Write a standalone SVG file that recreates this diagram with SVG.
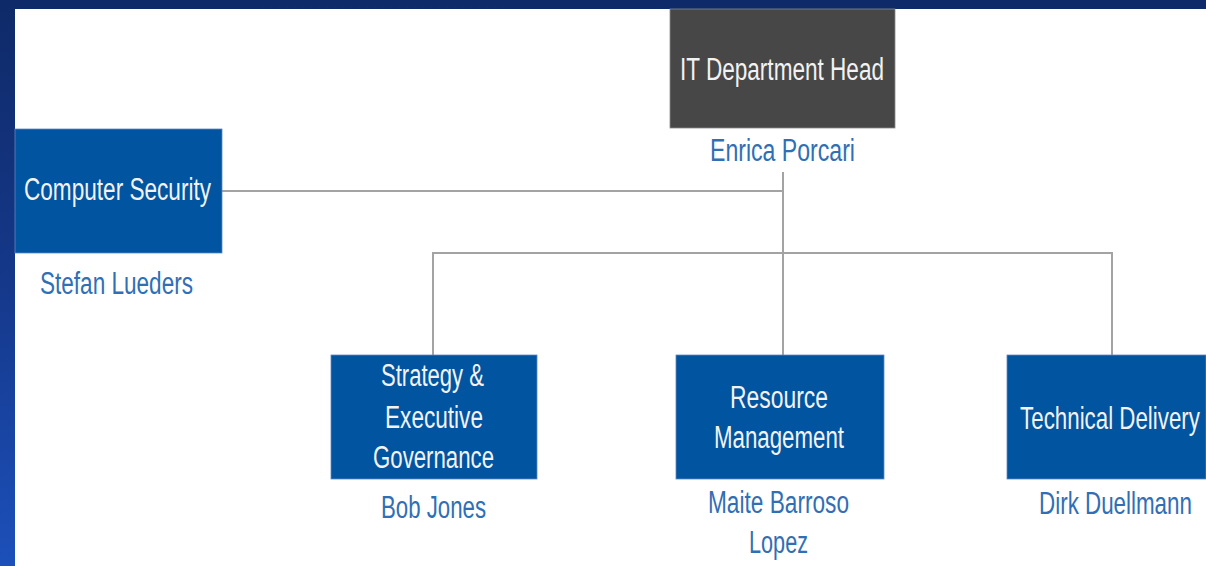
<svg xmlns="http://www.w3.org/2000/svg" width="1206" height="566" viewBox="0 0 1206 566">
<defs>
<linearGradient id="bg" x1="0" y1="0" x2="0" y2="1">
<stop offset="0" stop-color="#0f2a68"/>
<stop offset="0.5" stop-color="#15388a"/>
<stop offset="1" stop-color="#1c50ba"/>
</linearGradient>
<style>
.box{fill:#0054a0;stroke:#5f88c4;stroke-width:0.8}
.head{fill:#474747;stroke:#8a8a8a;stroke-width:0.8}
.lbl{font-family:"Liberation Sans",Arial,sans-serif;font-size:31px;fill:#f2f2f2;text-anchor:middle}
.nm{font-family:"Liberation Sans",Arial,sans-serif;font-size:31px;fill:#2f6fb5;text-anchor:middle}
.ln{stroke:#a3a3a3;stroke-width:2;fill:none}
</style>
</defs>
<rect x="0" y="0" width="1206" height="566" fill="url(#bg)"/>
<rect x="15" y="9" width="1191" height="557" fill="#ffffff"/>
<g id="connectors">
<path class="ln" d="M783 172 V355"/>
<path class="ln" d="M222 191 H783"/>
<path class="ln" d="M433 355 V253 H1112 V355"/>
</g>
<g id="head">
<rect class="head" x="670" y="9" width="225" height="119"/>
<text class="lbl" x="782" y="80" textLength="204" lengthAdjust="spacingAndGlyphs">IT Department Head</text>
<text class="nm" x="782.5" y="161" textLength="145" lengthAdjust="spacingAndGlyphs">Enrica Porcari</text>
</g>
<g id="security">
<rect class="box" x="15" y="129" width="207" height="124"/>
<text class="lbl" x="117.5" y="200" textLength="187" lengthAdjust="spacingAndGlyphs">Computer Security</text>
<text class="nm" x="116.5" y="294" textLength="153" lengthAdjust="spacingAndGlyphs">Stefan Lueders</text>
</g>
<g id="strategy">
<rect class="box" x="331" y="355" width="206" height="124"/>
<text class="lbl" x="432.5" y="386" textLength="103" lengthAdjust="spacingAndGlyphs">Strategy &amp;</text>
<text class="lbl" x="434" y="428" textLength="98" lengthAdjust="spacingAndGlyphs">Executive</text>
<text class="lbl" x="433.5" y="468" textLength="121" lengthAdjust="spacingAndGlyphs">Governance</text>
<text class="nm" x="433.5" y="518" textLength="105" lengthAdjust="spacingAndGlyphs">Bob Jones</text>
</g>
<g id="resource">
<rect class="box" x="676" y="355" width="208" height="124"/>
<text class="lbl" x="779" y="408" textLength="98" lengthAdjust="spacingAndGlyphs">Resource</text>
<text class="lbl" x="779" y="448" textLength="130" lengthAdjust="spacingAndGlyphs">Management</text>
<text class="nm" x="778.5" y="513" textLength="141" lengthAdjust="spacingAndGlyphs">Maite  Barroso</text>
<text class="nm" x="778.5" y="553" textLength="59" lengthAdjust="spacingAndGlyphs">Lopez</text>
</g>
<g id="technical">
<rect class="box" x="1007" y="355" width="199" height="124"/>
<text class="lbl" transform="translate(1110 429) scale(0.72 1)" x="0" y="0">Technical Delivery</text>
<text class="nm" transform="translate(1115.5 514) scale(0.722 1)" x="0" y="0">Dirk Duellmann</text>
</g>
</svg>
